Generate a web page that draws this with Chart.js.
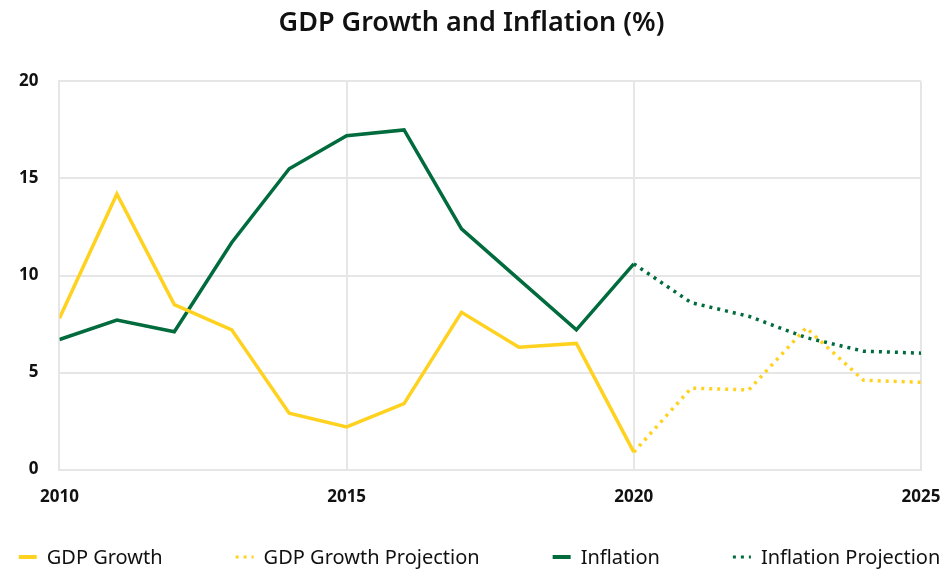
<!DOCTYPE html>
<html>
<head>
<meta charset="utf-8">
<script src="https://cdn.jsdelivr.net/npm/chart.js@4.4.1/dist/chart.umd.min.js"></script>
<style>
html,body{margin:0;padding:0;background:#fff;}
#wrap{width:945px;height:572px;position:relative;}
</style>
</head>
<body>
<div id="wrap"><canvas id="c"></canvas></div>
<script>
/* Daten */
const years=[2010,2011,2012,2013,2014,2015,2016,2017,2018,2019,2020];
const gdp=[7.8,14.2,8.5,7.2,2.9,2.2,3.4,8.1,6.3,6.5,0.9];
const infl=[6.7,7.7,7.1,11.7,15.5,17.2,17.5,12.4,9.8,7.2,10.6];
const projYears=[2020,2021,2022,2023,2024,2025];
const gdpProj=[0.9,4.2,4.1,7.3,4.6,4.5];
const inflProj=[10.6,8.6,7.9,6.8,6.1,6.0];
const xTicks=[2010,2015,2020,2025];

const YEL='#ffd21f',GRN='#006b3c',GRID='#e6e6e6';
const pts=(xs,ys)=>xs.map((x,i)=>({x,y:ys[i]}));
function ds(label,data,color,dotted){
  return {label,data,borderColor:color,backgroundColor:color,borderWidth:3.5,pointRadius:0,
    borderDash:dotted?[3,5]:[],borderCapStyle:'butt',tension:0,fill:false};
}
Chart.defaults.font.family='"Noto Sans", sans-serif';
Chart.defaults.color='#111';

/* eigene Legende unten: Abstaende wie in der Vorlage (eingebaute Legende packt zu eng) */
const bottomLegend={id:'bottomLegend',afterDraw(chart){
  const c=chart.ctx,sets=chart.data.datasets,box=18,gap=10,sp=73,cy=557;
  c.save();c.font='20px "Noto Sans", sans-serif';c.textBaseline='middle';c.textAlign='left';
  const w=sets.map(s=>box+gap+c.measureText(s.label).width);
  let x=(chart.width-(w.reduce((a,b)=>a+b,0)+sp*(sets.length-1)))/2+7;
  sets.forEach((s,i)=>{
    c.strokeStyle=s.borderColor;c.lineWidth=s.borderDash.length?3:4;c.setLineDash(s.borderDash);
    c.beginPath();c.moveTo(x,cy);c.lineTo(x+box,cy);c.stroke();
    c.setLineDash([]);c.fillStyle='#111';c.fillText(s.label,x+box+gap,cy+1);
    x+=w[i]+sp;
  });
  c.restore();
}};

new Chart(document.getElementById('c'),{type:'line',
  data:{datasets:[
    ds('GDP Growth',pts(years,gdp),YEL,false),
    ds('GDP Growth Projection',pts(projYears,gdpProj),YEL,true),
    ds('Inflation',pts(years,infl),GRN,false),
    ds('Inflation Projection',pts(projYears,inflProj),GRN,true)]},
  plugins:[bottomLegend],
  options:{responsive:true,maintainAspectRatio:false,animation:false,
    layout:{padding:{left:-2,right:0,top:0,bottom:48}},
    plugins:{
      title:{display:true,text:'GDP Growth and Inflation (%)',color:'#111',font:{size:27,weight:'600'},padding:{top:7,bottom:42}},
      legend:{display:false},
      tooltip:{enabled:false}},
    scales:{
      x:{type:'linear',min:2010,max:2025,
        afterBuildTicks:a=>{a.ticks=xTicks.map(v=>({value:v}));},
        afterFit:s=>{s.paddingRight=24;},
        ticks:{font:{size:17,weight:'bold'},color:'#111',padding:17,maxRotation:0,callback:v=>String(v)},
        grid:{color:GRID,lineWidth:2,drawTicks:false},border:{color:GRID,width:2}},
      y:{min:0,max:20,ticks:{stepSize:5,font:{size:17,weight:'bold'},color:'#111',padding:21},
        grid:{color:GRID,lineWidth:2,drawTicks:false},border:{color:GRID,width:2}}}}});
</script>
</body>
</html>
